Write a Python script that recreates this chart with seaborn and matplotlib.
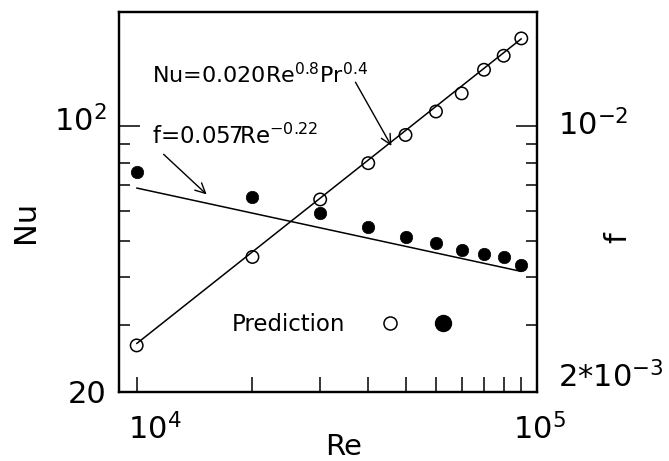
import numpy as np
import pandas as pd
import matplotlib
matplotlib.use("Agg")
import matplotlib.pyplot as plt
import matplotlib.ticker as mticker
import matplotlib.transforms as mtransforms
from matplotlib.lines import Line2D
from matplotlib.legend_handler import HandlerTuple
import seaborn as sns

# ---------------- data ----------------
re_points = [1e4, 2e4, 3e4, 4e4, 5e4, 6e4, 7e4, 8e4, 9e4, 1e5]
nu_pred = [26.5, 45.3, 64.2, 80.0, 94.9, 109.4, 122.1, 140.9, 153.4, 170.4]
f_pred = [7.58e-3, 6.51e-3, 5.92e-3, 5.44e-3, 5.12e-3, 4.93e-3, 4.72e-3, 4.62e-3, 4.52e-3, 4.32e-3]
re_corr = [1e4, 1e5]
nu_corr = [26.8, 170.0]
f_corr = [6.88e-3, 4.15e-3]

x_ticks = [1e4, 2e4, 3e4, 4e4, 5e4, 6e4, 7e4, 8e4, 9e4, 1e5]
x_tick_labels = [r"$10^4$", "", "", "", "", "", "", "", "", r"$10^5$"]
nu_ticks = [20, 100]
nu_tick_labels = ["20", r"$10^2$"]
nu_minor = [30, 40, 50, 60, 70, 80, 90]
f_ticks = [2e-3, 1e-2]
f_tick_labels = [r"2*$10^{-3}$", r"$10^{-2}$"]
f_minor = [3e-3, 4e-3, 5e-3, 6e-3, 7e-3, 8e-3, 9e-3]

nu_label = r"Nu=0.020Re$^{0.8}$Pr$^{0.4}$"
f_label = r"f=0.057Re$^{-0.22}$"

df_pts = pd.DataFrame({"Re": re_points, "Nu": nu_pred, "f": f_pred})
df_corr = pd.DataFrame({"Re": re_corr, "Nu": nu_corr, "f": f_corr})

# ---------------- style ----------------
sns.set_theme(style="white", rc={
    "text.color": "black", "axes.labelcolor": "black",
    "xtick.color": "black", "ytick.color": "black",
    "axes.edgecolor": "black",
})
plt.rcParams["font.family"] = ["DejaVu Sans"]
plt.rcParams["mathtext.fontset"] = "dejavusans"
plt.rcParams["axes.linewidth"] = 1.6

fig = plt.figure(figsize=(6.69, 4.61), dpi=100)
ax = fig.add_axes([0.178, 0.150, 0.625, 0.824])
ax2 = ax.twinx()

for a in (ax, ax2):
    a.set_xscale("log")
    a.set_yscale("log")
ax.set_xlim(9.0e3, 1.1e5)
ax.set_ylim(20, 200)
ax2.set_ylim(2e-3, 2e-2)

# correlation lines
sns.lineplot(data=df_corr, x="Re", y="Nu", ax=ax, color="black", lw=1.1)
sns.lineplot(data=df_corr, x="Re", y="f", ax=ax2, color="black", lw=1.1)

# prediction points
sns.scatterplot(data=df_pts, x="Re", y="Nu", ax=ax, marker="o", s=80,
                facecolor="none", edgecolor="black", linewidth=1.1, zorder=3)
for c in ax.collections:
    c.set_facecolor("none")
    c.set_edgecolor("black")
sns.scatterplot(data=df_pts, x="Re", y="f", ax=ax2, marker="o", s=80,
                color="black", edgecolor="black", linewidth=0.5, zorder=3)

# ---------------- ticks ----------------
ax.set_xticks(x_ticks)
ax.set_xticklabels(x_tick_labels)
ax.xaxis.set_minor_locator(mticker.NullLocator())
ax.set_yticks(nu_ticks)
ax.set_yticklabels(nu_tick_labels)
ax.yaxis.set_minor_locator(mticker.FixedLocator(nu_minor))
ax.yaxis.set_minor_formatter(mticker.NullFormatter())

ax2.set_yticks(f_ticks)
ax2.set_yticklabels(f_tick_labels)
ax2.yaxis.set_minor_locator(mticker.FixedLocator(f_minor))
ax2.yaxis.set_minor_formatter(mticker.NullFormatter())
ax2.xaxis.set_visible(False)

ax.tick_params(axis="x", which="major", direction="in", length=10.8, width=1.1,
               labelsize=22, pad=15, bottom=True, top=False)
ax.tick_params(axis="y", which="major", direction="in", length=15, width=1.1,
               labelsize=22, pad=9, left=True, right=False)
ax.tick_params(axis="y", which="minor", direction="in", length=8, width=1.1,
               left=True, right=False)
ax2.tick_params(axis="y", which="major", direction="in", length=15, width=1.1,
                labelsize=22, pad=15, right=True, left=False)
ax2.tick_params(axis="y", which="minor", direction="in", length=8, width=1.1,
                right=True, left=False)

shift_x = mtransforms.ScaledTranslation(0.18, 0, fig.dpi_scale_trans)
for lab in ax.get_xticklabels():
    lab.set_transform(lab.get_transform() + shift_x)
shift_up = mtransforms.ScaledTranslation(0, 0.08, fig.dpi_scale_trans)
for lab in ax.get_yticklabels()[1:]:
    lab.set_transform(lab.get_transform() + shift_up)
f_labs = ax2.get_yticklabels()
f_labs[0].set_transform(f_labs[0].get_transform() + mtransforms.ScaledTranslation(0, 0.18, fig.dpi_scale_trans))
f_labs[1].set_transform(f_labs[1].get_transform() + mtransforms.ScaledTranslation(0, 0.04, fig.dpi_scale_trans))

for a in (ax, ax2):
    for sp in a.spines.values():
        sp.set_linewidth(1.6)
        sp.set_color("black")

# ---------------- labels ----------------
ax.set_xlabel("Re", fontsize=21)
ax.xaxis.set_label_coords(0.536, -0.108)
ax.set_ylabel("Nu", fontsize=22)
ax.yaxis.set_label_coords(-0.19, 0.446)
ax2.set_ylabel("f", fontsize=22, rotation=90)
ax2.yaxis.set_label_coords(1.158, 0.405)

# ---------------- annotations ----------------
ax.text(1.095e4, 137, nu_label, fontsize=16, ha="left", va="center")
ax.annotate("", xy=(4.595e4, 88.8), xytext=(3.705e4, 130.7),
            arrowprops=dict(arrowstyle="->", lw=1.0, color="black", mutation_scale=18,
                            shrinkA=0, shrinkB=0))
ax.text(1.095e4, 94.2, f_label, fontsize=16.5, ha="left", va="center")
ax.annotate("", xy=(1.52e4, 66.2), xytext=(1.175e4, 84.4),
            arrowprops=dict(arrowstyle="->", lw=1.0, color="black", mutation_scale=18,
                            shrinkA=0, shrinkB=0))

# legend: "Prediction  o  ●"
h_open = Line2D([], [], ls="none", marker="o", ms=9.4, mfc="none", mec="black", mew=1.1)
h_fill = Line2D([], [], ls="none", marker="o", ms=11.5, mfc="black", mec="black")
leg = ax2.legend([(h_open, h_fill)], ["Prediction"],
                 handler_map={tuple: HandlerTuple(ndivide=None, pad=0)},
                 markerfirst=False, frameon=False, fontsize=16.5,
                 handlelength=4.6, handletextpad=0.8,
                 loc="center", bbox_to_anchor=(0.553, 0.176))

fig.savefig("out.png", dpi=100)
